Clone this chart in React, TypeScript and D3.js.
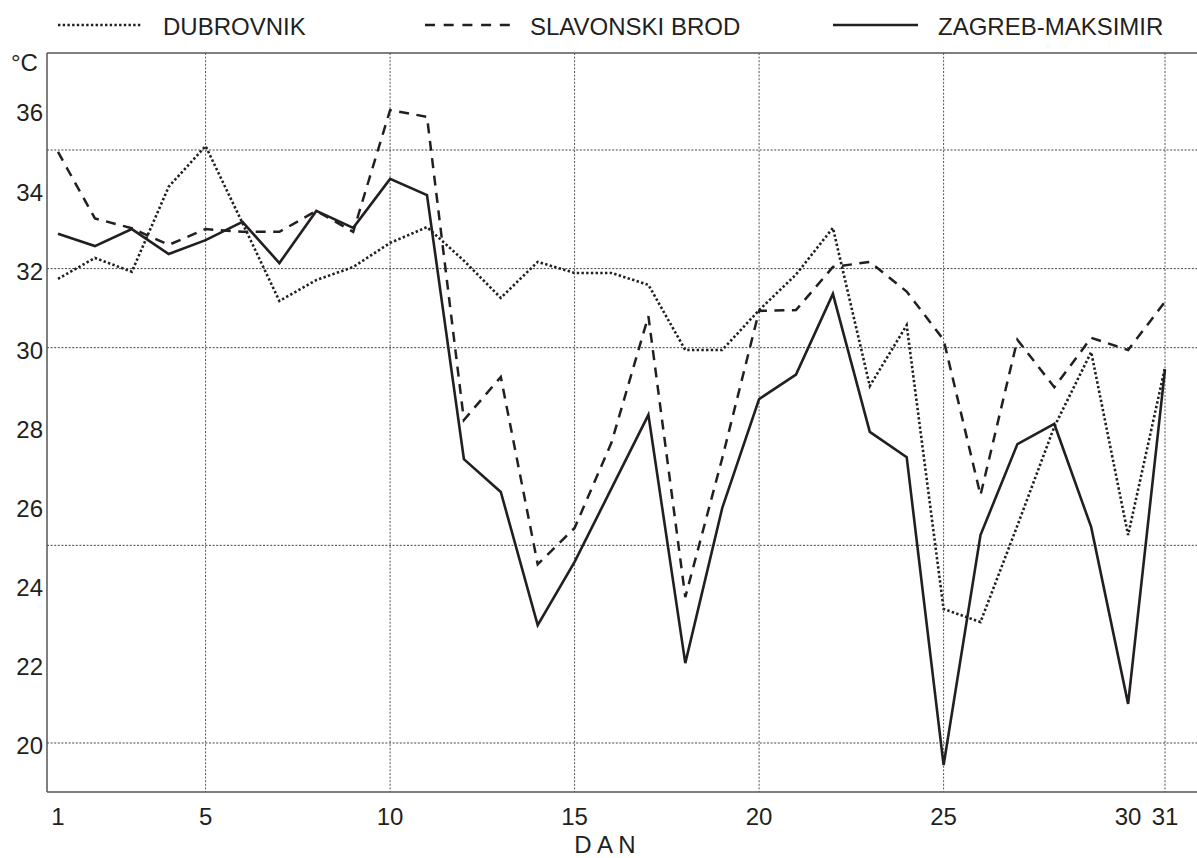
import React from "react";
import * as d3 from "d3";

// Daily maximum air temperature (°C), one value per day of the month
const days: number[] = d3.range(1, 32);

const dubrovnik: number[] = [
  31.74, 32.27, 31.92, 34.07, 35.1, 33.15, 31.18, 31.71, 32.04, 32.65, 33.05,
  32.2, 31.26, 32.17, 31.89, 31.89, 31.59, 29.94, 29.94, 30.95, 31.85, 33.03,
  29.03, 30.57, 23.39, 23.06, 25.5, 28.0, 29.89, 25.26, 29.5,
];

const slavonskiBrod: number[] = [
  34.95, 33.27, 33.02, 32.6, 33.0, 32.93, 32.93, 33.46, 32.93, 36.01, 35.84,
  28.17, 29.26, 24.52, 25.44, 27.6, 30.8, 23.69, 27.2, 30.93, 30.95, 32.04,
  32.17, 31.42, 30.2, 26.27, 30.2, 29.0, 30.25, 29.94, 31.16,
];

const zagrebMaksimir: number[] = [
  32.88, 32.57, 33.0, 32.37, 32.72, 33.18, 32.14, 33.46, 33.03, 34.27, 33.86,
  27.18, 26.35, 22.98, 24.58, 26.44, 28.3, 22.02, 25.94, 28.7, 29.32, 31.36,
  27.87, 27.23, 19.44, 25.26, 27.56, 28.07, 25.46, 20.99, 29.45,
];

const xTickLabels: number[] = [1, 5, 10, 15, 20, 25, 30, 31];
const xGridDays: number[] = [5, 10, 15, 20, 25, 31];
const yTickLabels: number[] = [20, 22, 24, 26, 28, 30, 32, 34, 36];
const yGridValues: number[] = [20, 25, 30, 32, 35];

const seriesNames: string[] = ["DUBROVNIK", "SLAVONSKI BROD", "ZAGREB-MAKSIMIR"];

const W = 1197;
const H = 858;
const INK = "#231f20";
const FONT = "'Liberation Sans', Arial, Helvetica, sans-serif";

const frame = { left: 47, right: 1197, top: 53, bottom: 792 };

const x = d3.scaleLinear().domain([1, 31]).range([58, 1165]);
const y = d3.scaleLinear().domain([20, 35]).range([743, 150]);

const lineGen = d3
  .line<number>()
  .x((_, i) => x(days[i]))
  .y((v) => y(v));

const styles = [
  { dash: "2.4,2.3", width: 2.6 },
  { dash: "10,7.5", width: 2.5 },
  { dash: "none", width: 2.6 },
];

const legend = [
  { x1: 58, x2: 142, tx: 163, dash: "2.4,2.3", width: 2.6 },
  { x1: 425, x2: 510, tx: 530, dash: "10,8.7", width: 2.5 },
  { x1: 833, x2: 918, tx: 938, dash: "none", width: 2.6 },
];

export default function App() {
  const series = [dubrovnik, slavonskiBrod, zagrebMaksimir];
  return (
    <svg
      width={W}
      height={H}
      style={{ position: "absolute", left: 0, top: 0, background: "#fff" }}
      fontFamily={FONT}
    >
      <rect x={0} y={0} width={W} height={H} fill="#fff" />

      {/* legend */}
      {legend.map((l, i) => (
        <g key={seriesNames[i]}>
          <line
            x1={l.x1}
            x2={l.x2}
            y1={25}
            y2={25}
            stroke={INK}
            strokeWidth={l.width}
            strokeDasharray={l.dash}
          />
          <text x={l.tx} y={35} fontSize={24} fill={INK}>
            {seriesNames[i]}
          </text>
        </g>
      ))}

      {/* grid */}
      {yGridValues.map((v) => (
        <line
          key={"gy" + v}
          x1={frame.left}
          x2={frame.right}
          y1={y(v)}
          y2={y(v)}
          stroke="#444"
          strokeWidth={1}
          strokeDasharray="2,1.6"
        />
      ))}
      {xGridDays.map((d) => (
        <line
          key={"gx" + d}
          x1={x(d)}
          x2={x(d)}
          y1={frame.top}
          y2={frame.bottom}
          stroke="#555"
          strokeWidth={1}
          strokeDasharray="2,1.6"
        />
      ))}

      {/* frame */}
      <line x1={frame.left} x2={frame.right} y1={frame.top} y2={frame.top} stroke="#555" strokeWidth={1.5} />
      <line x1={frame.left} x2={frame.right} y1={frame.bottom} y2={frame.bottom} stroke="#555" strokeWidth={1.5} />
      <line x1={frame.left} x2={frame.left} y1={frame.top} y2={frame.bottom} stroke="#555" strokeWidth={1.5} />

      {/* series */}
      {series.map((s, i) => (
        <path
          key={seriesNames[i]}
          d={lineGen(s) || ""}
          fill="none"
          stroke={INK}
          strokeWidth={styles[i].width}
          strokeDasharray={styles[i].dash}
          strokeLinejoin="miter"
        />
      ))}

      {/* y tick labels */}
      {yTickLabels.map((v) => (
        <text key={"ty" + v} x={43} y={y(v) + 11} fontSize={24} fill={INK} textAnchor="end">
          {v}
        </text>
      ))}
      <text x={11} y={71} fontSize={24} fill={INK}>
        °C
      </text>

      {/* x tick labels */}
      {xTickLabels.map((d) => (
        <text key={"tx" + d} x={x(d)} y={825} fontSize={24} fill={INK} textAnchor="middle">
          {d}
        </text>
      ))}
      <text x={605} y={853} fontSize={24} fill={INK} textAnchor="middle">
        D A N
      </text>
    </svg>
  );
}
